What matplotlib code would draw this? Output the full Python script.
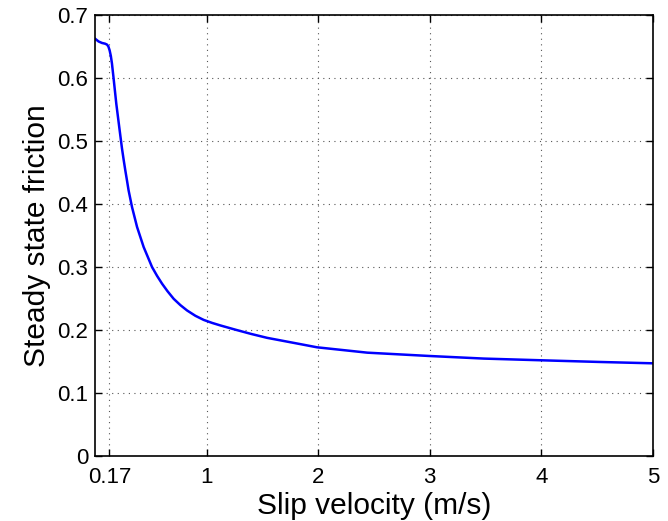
import matplotlib
matplotlib.use("Agg")
import matplotlib.pyplot as plt

plt.rcParams['font.family'] = ['Liberation Sans', 'DejaVu Sans']

slip_velocity = [0.0, 0.032, 0.063, 0.09, 0.108, 0.12, 0.131, 0.142, 0.152,
                 0.167, 0.191, 0.221, 0.242, 0.257, 0.272, 0.287, 0.301,
                 0.332, 0.377, 0.436, 0.511, 0.556, 0.601, 0.65, 0.705,
                 0.765, 0.825, 0.9, 0.974, 1.05, 1.124, 1.258, 1.4, 1.543,
                 1.842, 1.99, 2.44, 3.0, 3.485, 4.0, 4.53, 5.0]
friction = [0.6625, 0.658, 0.6556, 0.6545, 0.653, 0.650, 0.644, 0.635, 0.623,
            0.599, 0.559, 0.517, 0.488, 0.470, 0.453, 0.437, 0.4217,
            0.395, 0.3635, 0.3317, 0.300, 0.286, 0.2735, 0.2615, 0.2495,
            0.2395, 0.231, 0.2225, 0.2160, 0.2112, 0.2072, 0.2005, 0.1937,
            0.1875, 0.1775, 0.1725, 0.164, 0.1587, 0.1546, 0.1519, 0.1492,
            0.1471]

x_ticks = [0.13, 1, 2, 3, 4, 5]
x_tick_labels = ['0.17', '1', '2', '3', '4', '5']
y_ticks = [0, 0.1, 0.2, 0.3, 0.4, 0.5, 0.6, 0.7]
y_tick_labels = ['0', '0.1', '0.2', '0.3', '0.4', '0.5', '0.6', '0.7']

fig = plt.figure(figsize=(6.68, 5.21), dpi=100)
ax = fig.add_axes([0.1422, 0.1248, 0.8353, 0.8464])
ax.plot(slip_velocity, friction, color='#0000ff', lw=1.8)
ax.set_xlim(0, 5)
ax.set_ylim(0, 0.7)
ax.set_xticks(x_ticks)
ax.set_xticklabels(x_tick_labels)
ax.set_yticks(y_ticks)
ax.set_yticklabels(y_tick_labels)
ax.tick_params(direction='in', length=5, width=1, labelsize=16, top=True, right=True)
ax.tick_params(axis='x', pad=8)
ax.tick_params(axis='y', pad=5)
ax.grid(True, linestyle=(0, (1, 4)), color='#555555', lw=0.8)
for s in ax.spines.values():
    s.set_linewidth(1.2)
ax.set_xlabel('Slip velocity (m/s)', fontsize=21.5, labelpad=3)
ax.set_ylabel('Steady state friction', fontsize=21.5, labelpad=4)
fig.savefig('out.png', dpi=100)
